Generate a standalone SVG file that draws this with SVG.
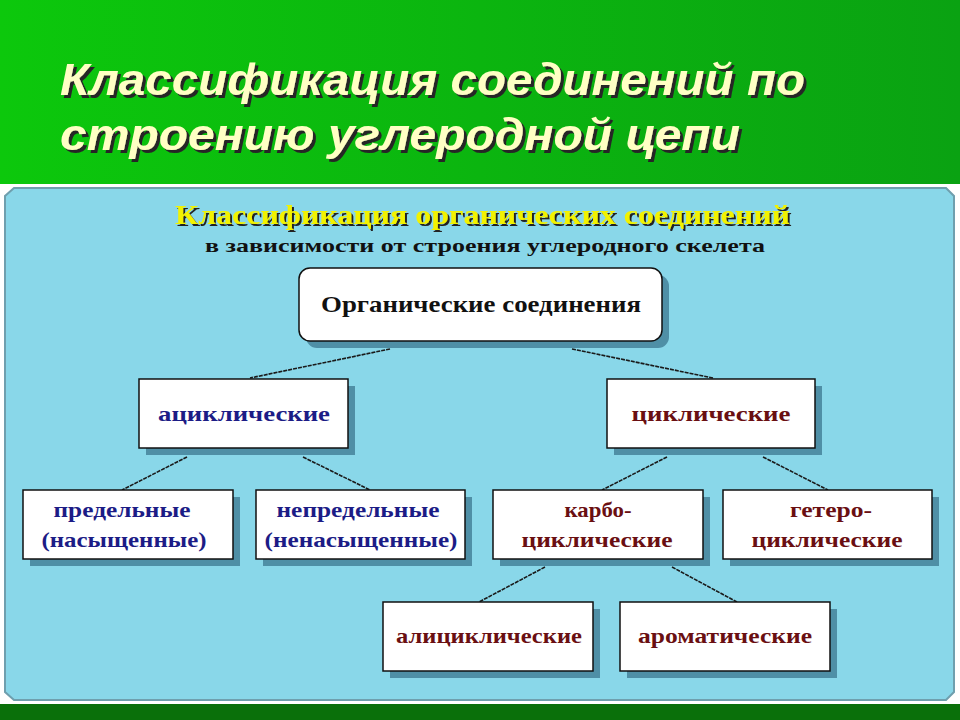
<svg xmlns="http://www.w3.org/2000/svg" width="960" height="720" viewBox="0 0 960 720">
<defs>
<linearGradient id="hdr" x1="0" y1="0" x2="1" y2="0">
<stop offset="0" stop-color="#0cc80c"/>
<stop offset="1" stop-color="#0aa212"/>
</linearGradient>
<filter id="ts" x="-5%" y="-20%" width="110%" height="150%">
<feDropShadow dx="3" dy="3" stdDeviation="0.6" flood-color="#262626" flood-opacity="1"/>
</filter>
<filter id="ts2" x="-5%" y="-20%" width="110%" height="150%">
<feDropShadow dx="2" dy="2" stdDeviation="0.3" flood-color="#222222" flood-opacity="1"/>
</filter>
<style>
.title{font-family:"Liberation Sans",Arial,sans-serif;font-weight:bold;font-style:italic;font-size:44px;fill:#ffffc4}
.box{fill:#ffffff;stroke:#111111;stroke-width:1.5}
.shadow{fill:#4f8fa6}
.lbl{font-family:"Liberation Serif","DejaVu Serif",serif;font-weight:bold;font-size:22px;text-anchor:middle}
.navy{fill:#1c1c86}
.red{fill:#6a0f12}
.conn line{stroke:#1a1a1a;stroke-width:1.6;stroke-dasharray:4 1}
</style>
</defs>
<rect x="0" y="0" width="960" height="720" fill="#ffffff"/>
<rect x="0" y="0" width="960" height="184" fill="url(#hdr)"/>
<g id="title" filter="url(#ts)">
<text class="title" x="60" y="95" textLength="745" lengthAdjust="spacingAndGlyphs">Классификация соединений по</text>
<text class="title" x="60" y="150" textLength="680" lengthAdjust="spacingAndGlyphs">строению углеродной цепи</text>
</g>
<path d="M14,188 H946 L954,196 V692 L946,700 H14 L5,692 V196 Z" fill="#89d7e9" stroke="#6f9fae" stroke-width="2"/>
<rect x="0" y="704" width="960" height="16" fill="#0a700a"/>
<g id="subtitle">
<text x="175" y="224" font-family="'Liberation Serif',serif" font-weight="bold" font-size="27" fill="#f2f200" filter="url(#ts2)" textLength="615" lengthAdjust="spacingAndGlyphs">Классификация органических соединений</text>
<text x="205" y="252" font-family="'Liberation Serif',serif" font-weight="bold" font-size="19" fill="#111111" textLength="560" lengthAdjust="spacingAndGlyphs">в зависимости от строения углеродного скелета</text>
</g>
<g class="conn" id="connectors">
<line x1="390" y1="349" x2="250" y2="378"/>
<line x1="572" y1="349" x2="713" y2="378"/>
<line x1="187" y1="457" x2="122" y2="490"/>
<line x1="303" y1="457" x2="370" y2="490"/>
<line x1="667" y1="457" x2="602" y2="490"/>
<line x1="763" y1="457" x2="828" y2="490"/>
<line x1="545" y1="567" x2="479" y2="602"/>
<line x1="672" y1="567" x2="737" y2="602"/>
</g>
<g id="root">
<rect class="shadow" x="306" y="275" width="363" height="73" rx="11"/>
<rect class="box" x="299" y="268" width="363" height="73" rx="11"/>
<text x="481" y="312" font-family="'Liberation Serif',serif" font-size="24" fill="#111111" text-anchor="middle" font-weight="bold" textLength="320" lengthAdjust="spacingAndGlyphs">Органические соединения</text>
</g>
<g id="acyclic">
<rect class="shadow" x="146" y="386" width="209" height="69"/>
<rect class="box" x="139" y="379" width="209" height="69"/>
<text class="lbl navy" x="244" y="421" textLength="172" lengthAdjust="spacingAndGlyphs">ациклические</text>
</g>
<g id="cyclic">
<rect class="shadow" x="614" y="386" width="208" height="69"/>
<rect class="box" x="607" y="379" width="208" height="69"/>
<text class="lbl red" x="711" y="421" textLength="159" lengthAdjust="spacingAndGlyphs">циклические</text>
</g>
<g id="saturated">
<rect class="shadow" x="30" y="497" width="210" height="69"/>
<rect class="box" x="23" y="490" width="210" height="69"/>
<text class="lbl navy" x="122" y="517" textLength="137" lengthAdjust="spacingAndGlyphs">предельные</text>
<text class="lbl navy" x="124" y="547" textLength="165" lengthAdjust="spacingAndGlyphs">(насыщенные)</text>
</g>
<g id="unsaturated">
<rect class="shadow" x="263" y="497" width="209" height="69"/>
<rect class="box" x="256" y="490" width="209" height="69"/>
<text class="lbl navy" x="358" y="517" textLength="163" lengthAdjust="spacingAndGlyphs">непредельные</text>
<text class="lbl navy" x="361" y="547" textLength="193" lengthAdjust="spacingAndGlyphs">(ненасыщенные)</text>
</g>
<g id="carbocyclic">
<rect class="shadow" x="500" y="497" width="210" height="69"/>
<rect class="box" x="493" y="490" width="210" height="69"/>
<text class="lbl red" x="598" y="517" textLength="67" lengthAdjust="spacingAndGlyphs">карбо-</text>
<text class="lbl red" x="597" y="547" textLength="151" lengthAdjust="spacingAndGlyphs">циклические</text>
</g>
<g id="heterocyclic">
<rect class="shadow" x="730" y="497" width="209" height="69"/>
<rect class="box" x="723" y="490" width="209" height="69"/>
<text class="lbl red" x="831" y="517" textLength="82" lengthAdjust="spacingAndGlyphs">гетеро-</text>
<text class="lbl red" x="827" y="547" textLength="151" lengthAdjust="spacingAndGlyphs">циклические</text>
</g>
<g id="alicyclic">
<rect class="shadow" x="390" y="609" width="210" height="69"/>
<rect class="box" x="383" y="602" width="210" height="69"/>
<text class="lbl red" x="489" y="643" textLength="186" lengthAdjust="spacingAndGlyphs">алициклические</text>
</g>
<g id="aromatic">
<rect class="shadow" x="627" y="609" width="210" height="69"/>
<rect class="box" x="620" y="602" width="210" height="69"/>
<text class="lbl red" x="725" y="643" textLength="174" lengthAdjust="spacingAndGlyphs">ароматические</text>
</g>
</svg>
